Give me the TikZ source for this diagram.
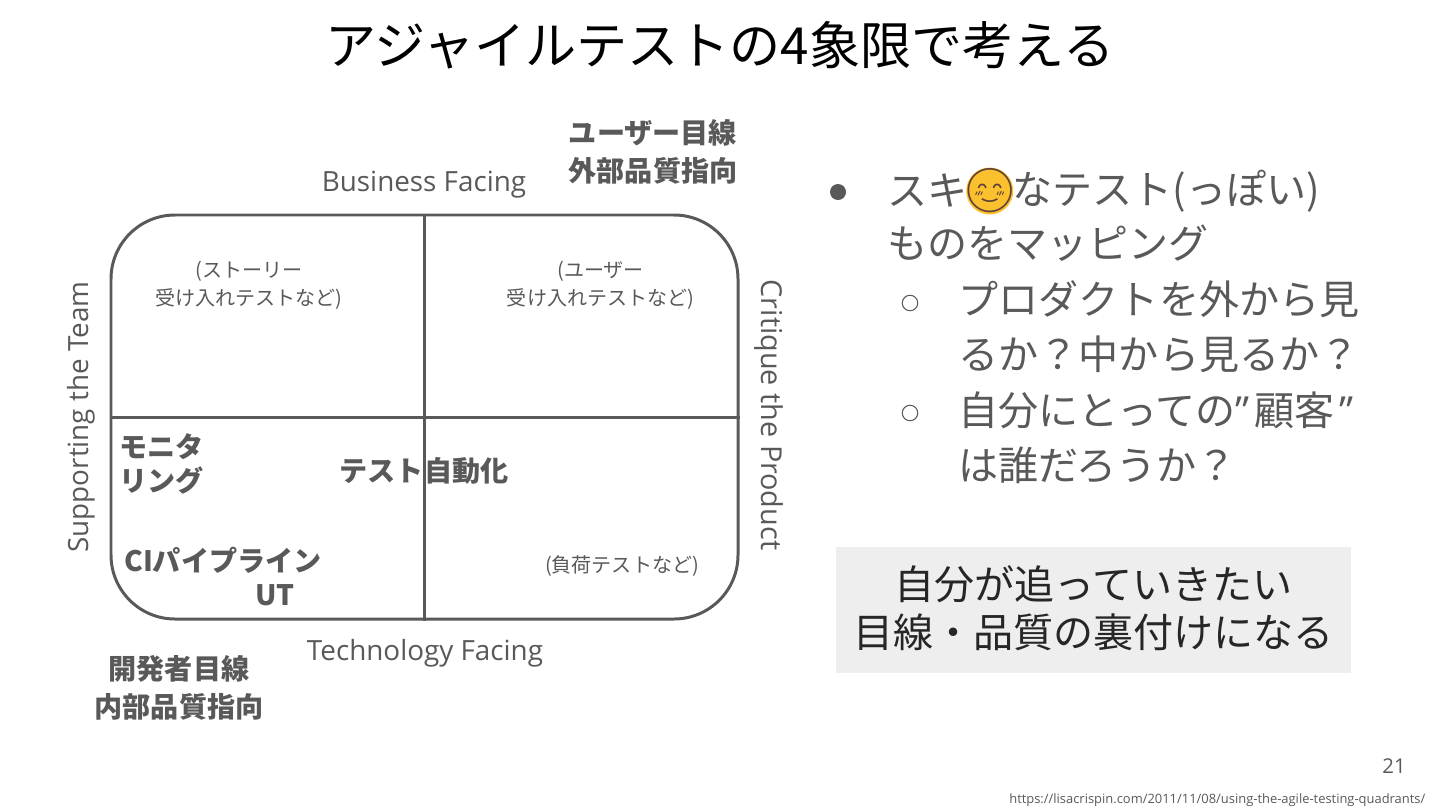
\documentclass[tikz,border=0pt]{standalone}
\usepackage{fontspec}
\setmainfont{Noto Sans CJK JP}
\newfontfamily\latinfont{Open Sans}
\newfontfamily\emojifont{Noto Emoji}
\usepackage{tikz}
\usetikzlibrary{positioning}
\definecolor{Ink}{HTML}{595959}
\definecolor{Soft}{HTML}{EEEEEE}
\definecolor{Smile}{HTML}{FBC02D}
\definecolor{SmileLine}{HTML}{5D4037}
\tikzset{
  titletext/.style={text=black,inner sep=0pt,font=\fontsize{14.55}{17}\selectfont},
  axislabel/.style={text=Ink,inner sep=0pt,font=\latinfont\fontsize{7.92}{10}\selectfont},
  notelabel/.style={text=Ink,inner sep=0pt,align=center,font=\fontsize{5.7}{8}\selectfont},
  boldlabel/.style={text=Ink,inner sep=0pt,align=center,font=\bfseries\fontsize{8}{10.8}\selectfont},
  bodytext/.style={text=Ink,inner sep=0pt,align=left,font=\fontsize{11.4}{15.65}\selectfont},
  solidbullet/.style={circle,fill=Ink,inner sep=0pt,minimum size=1.6mm},
  hollowbullet/.style={circle,draw=Ink,line width=.3pt,inner sep=0pt,minimum size=1.55mm},
  divider/.style={draw=Ink,line width=.85pt}
}
\begin{document}
\begin{tikzpicture}[x=1cm,y=1cm]
  \useasboundingbox (0,0) rectangle (14.4,8.1);
  \node[titletext] (title) at (7.2,7.65) {アジャイルテストの4象限で考える};

  % quadrant frame
  \node[divider,draw,rounded corners=6.4mm,minimum width=6.27cm,minimum height=4.04cm,inner sep=0pt] (frame) at (4.245,3.93) {};
  \draw[divider] (frame.north) -- (frame.south);
  \draw[divider] (frame.west) -- (frame.east);

  \node[axislabel] (business) at (4.24,6.25) {Business Facing};
  \node[axislabel] (technology) at (4.25,1.57) {Technology Facing};
  \node[axislabel,rotate=90] (supporting) at (.81,3.93) {Supporting the Team};
  \node[axislabel,rotate=270,font=\latinfont\fontsize{8.2}{10}\selectfont] (critique) at (7.69,3.95) {Critique the Product};

  \node[boldlabel] (user) at (6.53,6.58) {ユーザー目線\\外部品質指向};
  \node[boldlabel] (developer) at (1.79,1.22) {開発者目線\\内部品質指向};

  \node[notelabel] (story) at (2.49,5.245) {(ストーリー\\受け入れテストなど)};
  \node[notelabel] (accept) at (6.005,5.245) {(ユーザー\\受け入れテストなど)};
  \node[notelabel] (load) at (6.22,2.435) {(負荷テストなど)};

  \node[boldlabel,anchor=west,align=left,font=\bfseries\fontsize{8}{9.9}\selectfont] (monitor) at (1.185,3.46) {モニタ\\リング};
  \node[boldlabel] (auto) at (4.24,3.39) {テスト自動化};
  \node[boldlabel] (pipeline) at (2.23,2.5) {CIパイプライン};
  \node[boldlabel] (ut) at (2.75,2.15) {UT};

  % bullets on the right
  \node[solidbullet] (dot) at (8.38,6.18) {};
  \node[bodytext,anchor=west] (like) at (8.87,6.19) {スキ};
  \node[circle,fill=Smile,inner sep=-2.2mm,minimum size=4.7mm,right=-.03cm of like,text=SmileLine,font=\emojifont\fontsize{12.4}{12.4}\selectfont] (smile) {😊};
  \node[bodytext,right=-.02cm of smile] (kind) {なテスト(っぽい)};
  \node[bodytext,anchor=west] (mapping) at (8.87,5.67) {ものをマッピング};
  \node[hollowbullet] (ringa) at (9.1,5.07) {};
  \node[bodytext,anchor=west] (outside) at (9.58,4.835) {プロダクトを外から見\\るか？中から見るか？};
  \node[hollowbullet] (ringb) at (9.1,3.97) {};
  \node[bodytext,anchor=west] (customer) at (9.58,3.725) {自分にとっての{\latinfont”}\hspace{1.4pt}顧客\hspace{1.4pt}{\latinfont”}\\は誰だろうか？};

  \node[fill=Soft,minimum width=5.15cm,minimum height=1.26cm,inner sep=0pt] (memobox) at (10.935,2) {};
  \node[inner sep=0pt,align=center,text=black!85,font=\fontsize{11.4}{13.5}\selectfont] (memo) at (10.935,2.02) {自分が追っていきたい\\目線・品質の裏付けになる};

  \node[text=Ink,inner sep=0pt,font=\latinfont\fontsize{5.8}{6}\selectfont] (page) at (13.94,.44) {21};
  \node[text=Ink,inner sep=0pt,anchor=east,font=\latinfont\fontsize{3.68}{4}\selectfont] (source) at (14.26,.10) {https://lisacrispin.com/2011/11/08/using-the-agile-testing-quadrants/};
\end{tikzpicture}
\end{document}
